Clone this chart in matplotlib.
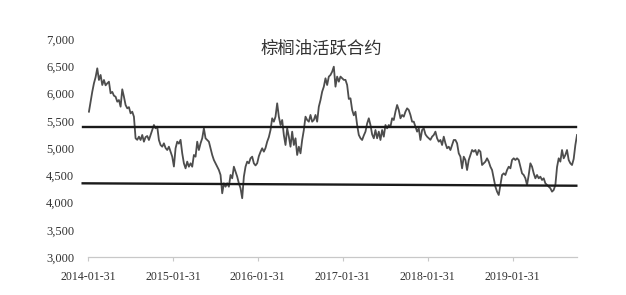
import matplotlib.pyplot as plt
import matplotlib.dates as mdates
import matplotlib.ticker as mticker
import pandas as pd

# 棕榈油活跃合约 收盘价（约每周一个点）
start_date = '2014-02-04'
end_date = '2019-11-04'
price = [
    5666, 5850, 6033, 6187, 6300, 6462, 6248, 6340, 6156, 6248,
    6150, 6187, 6217, 6004, 6030, 5960, 5941, 5850, 5880, 5758,
    6077, 5941, 5789, 5728, 5750, 5636, 5666, 5575, 5178, 5150,
    5208, 5147, 5239, 5116, 5200, 5220, 5147, 5239, 5330, 5422,
    5361, 5391, 5147, 5055, 5024, 5086, 5000, 4963, 5024, 4930,
    4841, 4660, 4995, 5116, 5080, 5150, 4902, 4719, 4627, 4750,
    4657, 4719, 4657, 4872, 4841, 5116, 4963, 5086, 5178, 5361,
    5178, 5147, 5116, 4995, 4872, 4780, 4719, 4657, 4596, 4505,
    4169, 4352, 4290, 4352, 4290, 4505, 4444, 4657, 4566, 4474,
    4352, 4261, 4078, 4474, 4657, 4750, 4719, 4811, 4841, 4719,
    4680, 4720, 4850, 4930, 4995, 4933, 5000, 5116, 5200, 5330,
    5545, 5483, 5575, 5820, 5575, 5422, 5514, 5239, 5055, 5361,
    5208, 5024, 5300, 5055, 5178, 4872, 5024, 4902, 5147, 5330,
    5575, 5514, 5483, 5606, 5483, 5514, 5606, 5483, 5758, 5880,
    6033, 6125, 6279, 6156, 6310, 6340, 6400, 6492, 6125, 6310,
    6217, 6310, 6280, 6250, 6250, 6156, 5900, 5912, 5700, 5600,
    5666, 5422, 5240, 5180, 5147, 5230, 5300, 5450, 5545, 5422,
    5250, 5178, 5330, 5178, 5300, 5147, 5330, 5208, 5422, 5361,
    5422, 5391, 5545, 5514, 5666, 5789, 5697, 5545, 5606, 5575,
    5666, 5728, 5697, 5606, 5483, 5483, 5391, 5300, 5361, 5147,
    5330, 5361, 5250, 5208, 5178, 5150, 5208, 5239, 5300, 5178,
    5116, 5147, 5055, 5208, 5086, 4995, 5024, 4963, 5055, 5147,
    5147, 5086, 4902, 4841, 4627, 4841, 4780, 4596, 4780, 4872,
    4963, 4933, 4963, 4872, 4963, 4933, 4688, 4719, 4750, 4811,
    4750, 4657, 4596, 4444, 4290, 4199, 4138, 4321, 4505, 4535,
    4505, 4596, 4657, 4627, 4780, 4811, 4780, 4811, 4780, 4657,
    4535, 4505, 4444, 4321, 4505, 4719, 4657, 4535, 4444, 4505,
    4444, 4474, 4413, 4444, 4352, 4321, 4290, 4261, 4199, 4230,
    4321, 4650, 4811, 4750, 4963, 4811, 4872, 4963, 4780, 4719,
    4688, 4800, 5055, 5239,
]

# 两条水平线（压力位 / 支撑位）
line_dates = ['2014-01-08', '2019-11-01']
upper_line = [5385, 5385]
lower_line = [4352, 4308]

tick_dates = ['2014-01-31', '2015-01-31', '2016-01-31',
              '2017-01-31', '2018-01-31', '2019-01-31']

dates = pd.date_range(start_date, end_date, periods=len(price))

fig = plt.figure(figsize=(6.26, 2.95), dpi=100)
ax = fig.add_axes([0.1406, 0.1288, 0.7819, 0.739])

ax.plot(dates, price, color='#4d4d4d', lw=1.3)
ax.plot(pd.to_datetime(line_dates), upper_line, color='#1a1a1a', lw=1.7, clip_on=False)
ax.plot(pd.to_datetime(line_dates), lower_line, color='#1a1a1a', lw=1.7, clip_on=False)

ax.set_xlim(pd.Timestamp('2014-01-31'), pd.Timestamp('2019-11-06'))
ax.set_ylim(3000, 7000)

ax.set_xticks(pd.to_datetime(tick_dates))
ax.xaxis.set_major_formatter(mdates.DateFormatter('%Y-%m-%d'))
ax.set_yticks(range(3000, 7001, 500))
ax.yaxis.set_major_formatter(mticker.FuncFormatter(lambda v, p: f'{int(v):,}'))

for s in ['top', 'right', 'left']:
    ax.spines[s].set_visible(False)
ax.spines['bottom'].set_color('#c8c8c8')
ax.spines['bottom'].set_linewidth(0.9)

ax.tick_params(axis='y', length=0, pad=10, labelsize=9, labelcolor='#333333')
ax.tick_params(axis='x', length=3, width=0.8, color='#c8c8c8', pad=7,
               labelsize=8.6, labelcolor='#333333')
for lab in ax.get_xticklabels() + ax.get_yticklabels():
    lab.set_family('Liberation Serif')

fig.text(0.513, 0.834, '棕榈油活跃合约', ha='center', va='center',
         fontsize=12.5, color='#333333',
         family=['Noto Sans CJK SC', 'DejaVu Sans'])

fig.savefig('out.png', dpi=100)
